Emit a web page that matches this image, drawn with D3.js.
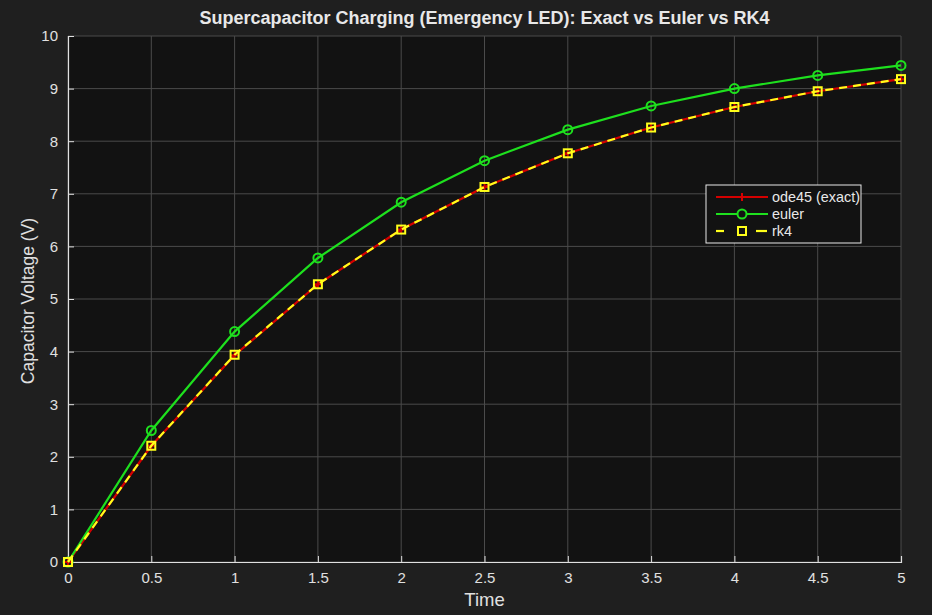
<!DOCTYPE html>
<html>
<head>
<meta charset="utf-8">
<script src="https://cdn.jsdelivr.net/npm/d3@7"></script>
<style>
  html, body { margin: 0; padding: 0; background: #1f1f1f; }
  svg { display: block; font-family: Arial, "Liberation Sans", sans-serif; }
</style>
</head>
<body>
<div id="chart"></div>
<script>
// data
const times = [0, 0.5, 1, 1.5, 2, 2.5, 3, 3.5, 4, 4.5, 5];
const exactV = [0, 2.21, 3.93, 5.28, 6.32, 7.13, 7.77, 8.26, 8.65, 8.95, 9.18];
const eulerV = [0, 2.50, 4.38, 5.78, 6.84, 7.63, 8.22, 8.67, 9.00, 9.25, 9.44];
const rk4V = [0, 2.21, 3.94, 5.28, 6.32, 7.13, 7.77, 8.26, 8.65, 8.95, 9.18];
const xTicks = [0, 0.5, 1, 1.5, 2, 2.5, 3, 3.5, 4, 4.5, 5];
const yTicks = [0, 1, 2, 3, 4, 5, 6, 7, 8, 9, 10];

const width = 932, height = 615;
const margin = {top: 36, right: 31, bottom: 53, left: 68};
const plotW = width - margin.left - margin.right;
const plotH = height - margin.top - margin.bottom;

const svg = d3.select('#chart')
  .append('svg')
  .attr('width', width)
  .attr('height', height)
  .style('background', '#1f1f1f');

const x = d3.scaleLinear().domain([0, 5]).range([0, plotW]);
const y = d3.scaleLinear().domain([0, 10]).range([plotH, 0]);

const g = svg.append('g').attr('transform', `translate(${margin.left},${margin.top})`);

// axes background
g.append('rect')
  .attr('width', plotW)
  .attr('height', plotH)
  .attr('fill', '#121212');

// grid
g.selectAll('.vgrid').data(xTicks).enter().append('line')
  .attr('x1', d => x(d)).attr('x2', d => x(d))
  .attr('y1', 0).attr('y2', plotH)
  .attr('stroke', '#4b4b4b').attr('stroke-width', 1);
g.selectAll('.hgrid').data(yTicks).enter().append('line')
  .attr('x1', 0).attr('x2', plotW)
  .attr('y1', d => y(d)).attr('y2', d => y(d))
  .attr('stroke', '#4b4b4b').attr('stroke-width', 1);

// axes
const xAxis = d3.axisBottom(x).tickValues(xTicks).tickSize(-6).tickPadding(10)
  .tickFormat(d3.format('~g'));
const yAxis = d3.axisLeft(y).tickValues(yTicks).tickSize(-6).tickPadding(10)
  .tickFormat(d3.format('~g'));

const gx = g.append('g').attr('transform', `translate(0,${plotH})`).call(xAxis);
const gy = g.append('g').call(yAxis);
[gx, gy].forEach(a => {
  a.select('.domain').attr('stroke', '#e0e0e0').attr('stroke-width', 1.2);
  a.selectAll('.tick line').attr('stroke', '#e0e0e0');
  a.selectAll('.tick text').attr('fill', '#e0e0e0').style('font-size', '15px');
});

// series
const line = d3.line().x((d, i) => x(times[i])).y(d => y(d));

// ode45 (exact)
g.append('path').datum(exactV)
  .attr('d', line).attr('fill', 'none')
  .attr('stroke', '#d40000').attr('stroke-width', 2.2);
g.selectAll('.plus').data(exactV).enter().append('path')
  .attr('d', (d, i) => `M${x(times[i]) - 4},${y(d)}h8M${x(times[i])},${y(d) - 4}v8`)
  .attr('stroke', '#d40000').attr('stroke-width', 2);

// euler
g.append('path').datum(eulerV)
  .attr('d', line).attr('fill', 'none')
  .attr('stroke', '#1ee01e').attr('stroke-width', 2.2);
g.selectAll('.circ').data(eulerV).enter().append('circle')
  .attr('cx', (d, i) => x(times[i])).attr('cy', d => y(d)).attr('r', 4.5)
  .attr('fill', 'none').attr('stroke', '#1ee01e').attr('stroke-width', 2);

// rk4
g.append('path').datum(rk4V)
  .attr('d', line).attr('fill', 'none')
  .attr('stroke', '#ffff1a').attr('stroke-width', 2.2)
  .attr('stroke-dasharray', '8,6');
g.selectAll('.sq').data(rk4V).enter().append('rect')
  .attr('x', (d, i) => x(times[i]) - 4).attr('y', d => y(d) - 4)
  .attr('width', 8).attr('height', 8)
  .attr('fill', 'none').attr('stroke', '#ffff1a').attr('stroke-width', 2);

// title and labels
svg.append('text')
  .attr('x', margin.left + plotW / 2).attr('y', 24)
  .attr('text-anchor', 'middle')
  .attr('fill', '#e8e8e8')
  .style('font-size', '18px').style('font-weight', 'bold')
  .text('Supercapacitor Charging (Emergency LED): Exact vs Euler vs RK4');

svg.append('text')
  .attr('x', margin.left + plotW / 2).attr('y', 606)
  .attr('text-anchor', 'middle')
  .attr('fill', '#e0e0e0')
  .style('font-size', '18.5px')
  .text('Time');

svg.append('text')
  .attr('transform', `translate(34,${margin.top + plotH / 2 + 2}) rotate(-90)`)
  .attr('text-anchor', 'middle')
  .attr('fill', '#e0e0e0')
  .style('font-size', '17.5px')
  .text('Capacitor Voltage (V)');

// legend
const legendItems = [
  {name: 'ode45 (exact)', color: '#d40000', dash: false, marker: 'plus'},
  {name: 'euler', color: '#1ee01e', dash: false, marker: 'circle'},
  {name: 'rk4', color: '#ffff1a', dash: true, marker: 'square'}
];
const lg = svg.append('g').attr('transform', 'translate(706,185)');
lg.append('rect')
  .attr('width', 155).attr('height', 58)
  .attr('fill', '#121212').attr('stroke', '#e8e8e8').attr('stroke-width', 1);
legendItems.forEach((item, i) => {
  const cy = 12 + i * 17;
  const segs = item.dash ? [[10, 18], [50, 61]] : [[10, 62]];
  segs.forEach(s => {
    lg.append('line')
      .attr('x1', s[0]).attr('x2', s[1]).attr('y1', cy).attr('y2', cy)
      .attr('stroke', item.color).attr('stroke-width', 2.2);
  });
  if (item.marker === 'plus') {
    lg.append('path').attr('d', `M36,${cy - 4}v8M32,${cy}h8`)
      .attr('stroke', item.color).attr('stroke-width', 2);
  } else if (item.marker === 'circle') {
    lg.append('circle').attr('cx', 36).attr('cy', cy).attr('r', 4.5)
      .attr('fill', '#121212').attr('stroke', item.color).attr('stroke-width', 2);
  } else {
    lg.append('rect').attr('x', 32).attr('y', cy - 4).attr('width', 8).attr('height', 8)
      .attr('fill', 'none').attr('stroke', item.color).attr('stroke-width', 2);
  }
  lg.append('text')
    .attr('x', 66).attr('y', cy + 5)
    .attr('fill', '#e8e8e8')
    .style('font-size', '14.4px')
    .text(item.name);
});
</script>
</body>
</html>
